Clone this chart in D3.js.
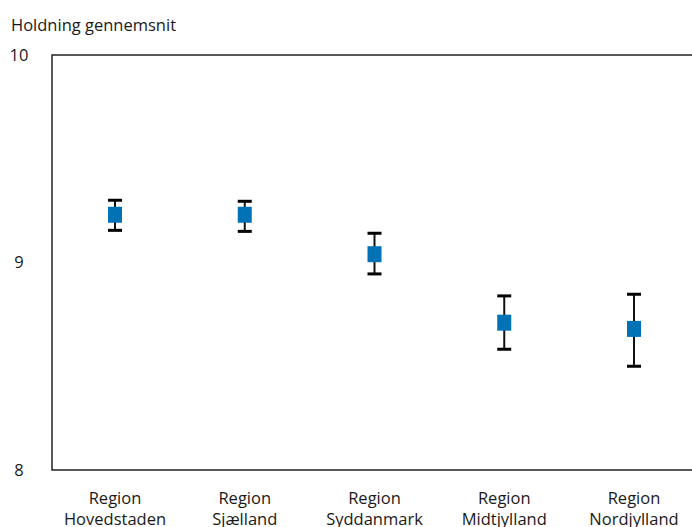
<!DOCTYPE html>
<html lang="da">
<head>
<meta charset="UTF-8">
<script src="https://cdn.jsdelivr.net/npm/d3@7"></script>
<style>
  body { margin: 0; background: #fff; }
  text { font-family: "Open Sans", "Noto Sans", sans-serif; fill: #1a1a1a; }
</style>
</head>
<body>
<div id="chart"></div>
<script>
// data
const regions = [
  ["Region", "Hovedstaden"],
  ["Region", "Sjælland"],
  ["Region", "Syddanmark"],
  ["Region", "Midtjylland"],
  ["Region", "Nordjylland"]
];
const means = [9.23, 9.23, 9.04, 8.71, 8.68];
const lower = [9.155, 9.15, 8.945, 8.582, 8.50];
const upper = [9.30, 9.295, 9.141, 8.839, 8.847];
const yTicks = [8, 9, 10];

const W = 692, H = 527;
const margin = { top: 55, right: -10, bottom: 57, left: 52 };
const width = W - margin.left - margin.right;
const height = H - margin.top - margin.bottom;
const fs = "16.5px";

const svg = d3.select("#chart").append("svg")
  .attr("width", W).attr("height", H);

svg.append("text")
  .attr("x", 11).attr("y", 31)
  .style("font-size", fs)
  .text("Holdning gennemsnit");

const g = svg.append("g").attr("transform", `translate(${margin.left},${margin.top})`);

// category centres are ~130px apart, first one 63px from the axis
const x = d3.scalePoint()
  .domain(d3.range(regions.length))
  .range([63, 63 + 4 * 129.75]);

const y = d3.scaleLinear().domain([8, 10]).range([height, 0]);

// frame
g.append("rect")
  .attr("x", 0).attr("y", 0)
  .attr("width", width).attr("height", height)
  .attr("fill", "none")
  .attr("stroke", "#222")
  .attr("stroke-width", 1.5);

// y labels
svg.selectAll(".ylab")
  .data(yTicks)
  .join("text")
  .attr("class", "ylab")
  .attr("x", 19)
  .attr("y", d => margin.top + y(d))
  .attr("dy", "0.35em")
  .attr("text-anchor", "middle")
  .style("font-size", fs)
  .text(d => d);

// x labels
const xl = g.selectAll(".xlab")
  .data(regions)
  .join("text")
  .attr("class", "xlab")
  .attr("text-anchor", "middle")
  .attr("transform", (d, i) => `translate(${x(i)},${height + 34})`)
  .style("font-size", fs);
xl.selectAll("tspan")
  .data(d => d)
  .join("tspan")
  .attr("x", 0)
  .attr("dy", (d, i) => i === 0 ? 0 : 21)
  .text(d => d);

// error bars
const eb = g.selectAll(".err")
  .data(means)
  .join("g")
  .attr("class", "err");
eb.append("line")
  .attr("x1", (d, i) => x(i)).attr("x2", (d, i) => x(i))
  .attr("y1", (d, i) => y(upper[i])).attr("y2", (d, i) => y(lower[i]))
  .attr("stroke", "#111").attr("stroke-width", 2);
eb.append("line")
  .attr("x1", (d, i) => x(i) - 7).attr("x2", (d, i) => x(i) + 7)
  .attr("y1", (d, i) => y(upper[i])).attr("y2", (d, i) => y(upper[i]))
  .attr("stroke", "#000").attr("stroke-width", 3);
eb.append("line")
  .attr("x1", (d, i) => x(i) - 7).attr("x2", (d, i) => x(i) + 7)
  .attr("y1", (d, i) => y(lower[i])).attr("y2", (d, i) => y(lower[i]))
  .attr("stroke", "#000").attr("stroke-width", 3);

// mean markers
g.selectAll(".pt")
  .data(means)
  .join("rect")
  .attr("class", "pt")
  .attr("x", (d, i) => x(i) - 7)
  .attr("y", d => y(d) - 8)
  .attr("width", 14).attr("height", 16)
  .attr("fill", "#0072b5");
</script>
</body>
</html>
